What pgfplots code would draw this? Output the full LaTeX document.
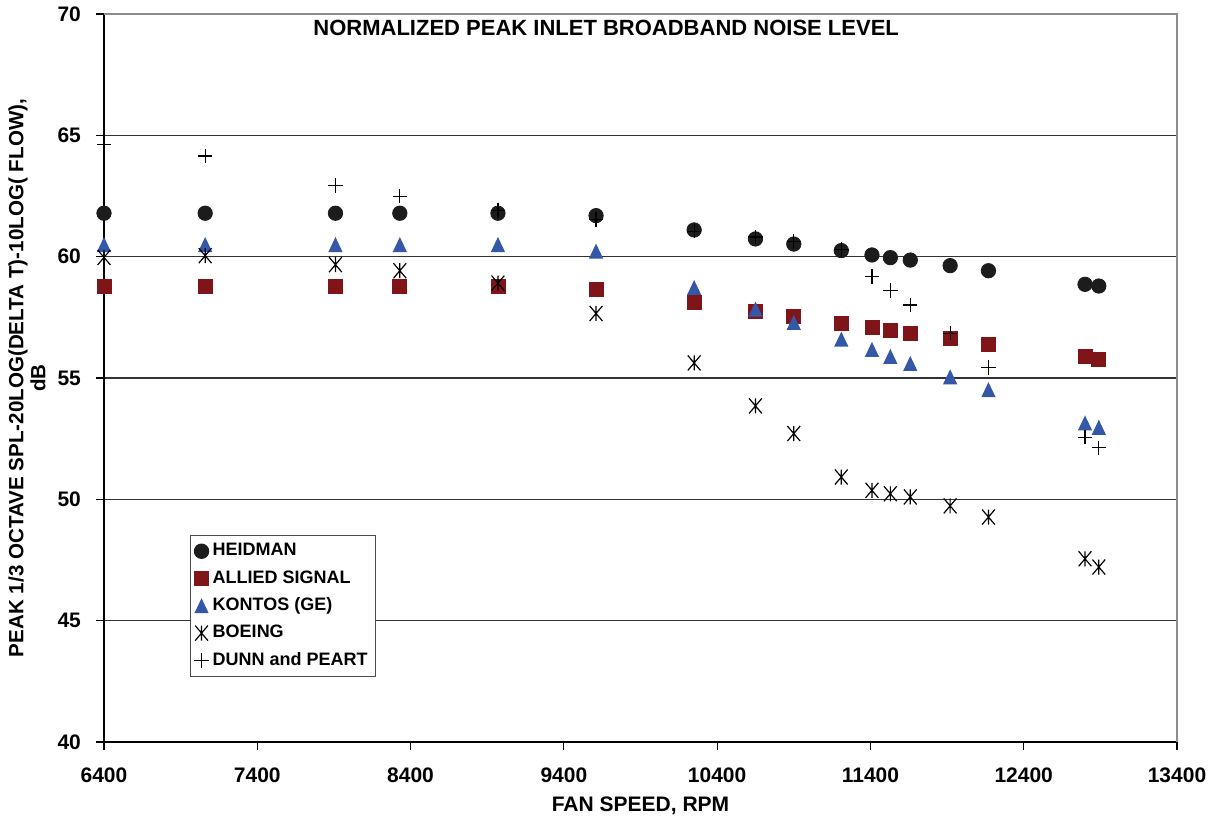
\documentclass[border=0pt]{standalone}
\usepackage{fontspec}
\setmainfont{Liberation Sans}
\usepackage{pgfplots}
\usepackage{pgfplotstable}
\pgfplotsset{compat=1.18}
\definecolor{allied}{HTML}{7F1518}
\definecolor{kontos}{HTML}{3457A8}
\definecolor{heid}{HTML}{1C1C1C}
\pgfdeclareplotmark{boeing}{%
  \pgfpathmoveto{\pgfqpoint{0pt}{\pgfplotmarksize}}%
  \pgfpathlineto{\pgfqpoint{0pt}{-\pgfplotmarksize}}%
  \pgfpathmoveto{\pgfqpoint{-0.85\pgfplotmarksize}{\pgfplotmarksize}}%
  \pgfpathlineto{\pgfqpoint{0.85\pgfplotmarksize}{-\pgfplotmarksize}}%
  \pgfpathmoveto{\pgfqpoint{0.85\pgfplotmarksize}{\pgfplotmarksize}}%
  \pgfpathlineto{\pgfqpoint{-0.85\pgfplotmarksize}{-\pgfplotmarksize}}%
  \pgfusepathqstroke}
\pgfdeclareplotmark{tri}{%
  \pgfpathmoveto{\pgfqpoint{0pt}{\pgfplotmarksize}}%
  \pgfpathlineto{\pgfqpoint{0.95\pgfplotmarksize}{-\pgfplotmarksize}}%
  \pgfpathlineto{\pgfqpoint{-0.95\pgfplotmarksize}{-\pgfplotmarksize}}%
  \pgfpathclose\pgfusepathqfill}
\pgfplotstableread{
rpm heid allied kontos boeing dunn
6400 61.79 58.76 60.50 59.97 64.61
7060 61.79 58.76 60.50 60.04 64.15
7910 61.79 58.76 60.50 59.67 62.93
8330 61.79 58.76 60.50 59.42 62.49
8970 61.79 58.76 60.50 58.91 61.90
9610 61.69 58.66 60.23 57.66 61.53
10250 61.10 58.11 58.73 55.62 61.05
10650 60.73 57.74 57.84 53.85 60.81
10900 60.52 57.53 57.29 52.71 60.63
11210 60.25 57.23 56.60 50.92 60.29
11410 60.07 57.08 56.18 50.37 59.19
11530 59.96 56.97 55.89 50.23 58.60
11660 59.86 56.85 55.60 50.10 58.01
11920 59.63 56.63 55.05 49.73 56.85
12170 59.42 56.40 54.52 49.27 55.44
12800 58.86 55.89 53.15 47.55 52.56
12890 58.79 55.78 52.97 47.21 52.12
}\data
\begin{document}
\begin{tikzpicture}
\begin{axis}[
  scale only axis,
  width=536.5pt, height=364pt,
  xmin=6400, xmax=13400, ymin=40, ymax=70,
  xtick={6400,7400,...,13400}, ytick={40,45,...,70},
  scaled x ticks=false, scaled y ticks=false,
  axis x line*=bottom, axis y line*=left,
  axis line style={black, line width=0.8pt},
  tick style={black, line width=0.6pt},
  tick align=outside, major tick length=4pt,
  ymajorgrids, grid style={black!80, line width=0.6pt},
  /pgf/number format/assume math mode=true,
  /pgf/number format/1000 sep={},
  ticklabel style={font=\bfseries\fontsize{10.5}{12}\selectfont},
  xticklabel style={yshift=-5.5pt},
  yticklabel style={xshift=-4pt},
  xlabel={FAN SPEED, RPM},
  xlabel style={at={(axis description cs:0.5,0)}, anchor=center, yshift=-32pt, font=\bfseries\fontsize{10.5}{12}\selectfont},
  ylabel={PEAK 1/3 OCTAVE SPL-20LOG(DELTA T)-10LOG( FLOW),\\dB},
  ylabel style={at={(axis description cs:-0.0718,0.5)}, anchor=center, align=center, font=\bfseries\fontsize{10.3}{11}\selectfont},
  legend style={at={(axis description cs:0.080,0.2843)}, anchor=north west, draw=black!70, line width=0.5pt,
    font=\bfseries\fontsize{9}{11}\selectfont, row sep=1.8pt, inner sep=2pt},
  legend cell align=left,
  clip=false,
]
\coordinate (sw) at (rel axis cs:0,0);
\coordinate (ne) at (rel axis cs:1,1);
\addplot[only marks, mark=*, mark size=3.6pt, draw=heid, fill=heid] table[x=rpm,y=heid]{\data};
\addlegendentry{HEIDMAN}
\addplot[only marks, mark=square*, mark size=3.5pt, draw=allied, fill=allied] table[x=rpm,y=allied]{\data};
\addlegendentry{ALLIED SIGNAL}
\addplot[only marks, mark=tri, mark size=3.75pt, draw=kontos, fill=kontos] table[x=rpm,y=kontos]{\data};
\addlegendentry{KONTOS (GE)}
\addplot[only marks, mark=boeing, mark size=3.75pt, draw=black, line width=0.6pt] table[x=rpm,y=boeing]{\data};
\addlegendentry{BOEING}
\addplot[only marks, mark=+, mark size=3.6pt, draw=black, line width=0.6pt] table[x=rpm,y=dunn]{\data};
\addlegendentry{DUNN and PEART}
\draw[black!45, line width=0.8pt] (rel axis cs:0,1) -- (rel axis cs:1,1) -- (rel axis cs:1,0);
\node[font=\bfseries\fontsize{11}{13}\selectfont] at (axis description cs:0.468,0.981) {NORMALIZED PEAK INLET BROADBAND NOISE LEVEL};
\end{axis}
\pgfresetboundingbox
\path ([shift={(-52pt,-41pt)}]sw) rectangle ([shift={(20.5pt,7pt)}]ne);
\end{tikzpicture}
\end{document}
